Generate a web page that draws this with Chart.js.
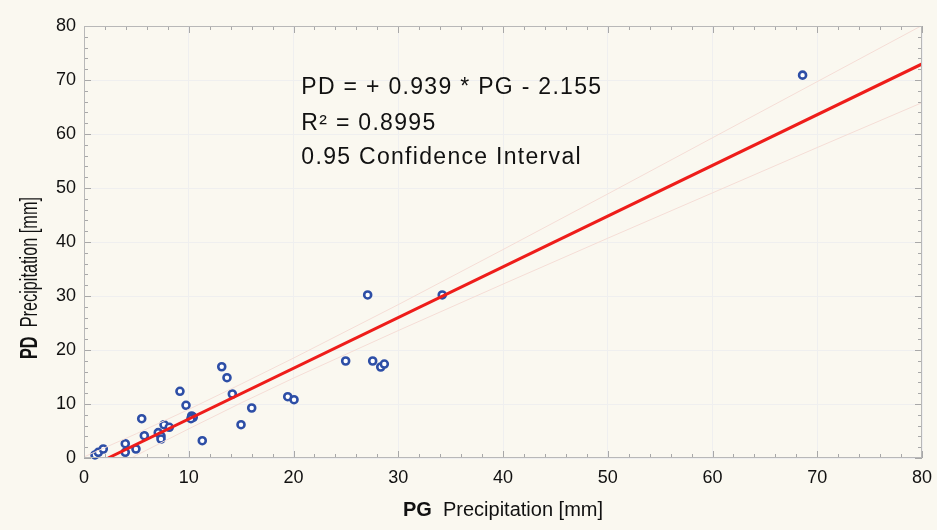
<!DOCTYPE html>
<html lang="en">
<head>
<meta charset="utf-8">
<title>PD vs PG precipitation</title>
<script src="https://cdn.jsdelivr.net/npm/chart.js@4/dist/chart.umd.min.js"></script>
<style>
  html, body { margin: 0; padding: 0; background: #faf8f0; }
</style>
</head>
<body>
<canvas id="chart" width="937" height="530"></canvas>
<script>
// measured pairs, PG on x and PD on y (mm)
const pg = [1.05, 1.37, 1.84, 3.94, 3.94, 4.96, 5.51, 5.76, 7.09, 7.35, 7.35, 7.64, 8.14,
            9.16, 9.74, 10.28, 10.43, 10.21, 11.29, 13.15, 13.65, 14.16, 14.99, 16.01,
            19.45, 20.05, 24.98, 27.08, 27.56, 28.33, 28.67, 34.2, 68.6];
const pd = [0.56, 1.06, 1.67, 2.65, 1.06, 1.67, 7.28, 4.13, 4.69, 4.07, 3.52, 6.17, 5.69,
            12.35, 9.76, 7.78, 7.54, 7.28, 3.2, 16.9, 14.87, 11.85, 6.17, 9.26,
            11.35, 10.8, 17.96, 30.19, 17.96, 16.85, 17.4, 30.19, 70.9];

// regression line end points
const fitPG = [2.3, 80];
const fitPD = [0, 72.97];

// 0.95 confidence band, read at a few PG values
const ciPG    = [0, 5, 10, 15, 20, 30, 40, 50, 60, 70, 80];
const ciUpper = [0.2, 4.5, 9.0, 13.7, 18.5, 28.4, 38.6, 48.9, 59.3, 69.7, 80.1];
const ciLower = [-4.5, 0.5, 5.4, 10.2, 14.8, 23.6, 32.2, 40.7, 49.1, 57.5, 65.8];

const noteLines = ['PD = + 0.939 * PG - 2.155', 'R\u00B2 = 0.8995', '0.95 Confidence Interval'];
const notePD = [68.5, 62.0, 55.7];
const notePG = 20.75;

const FONT = '"Liberation Sans", Arial, sans-serif';

function pairs(xs, ys) {
  return xs.map((x, i) => ({x: x, y: ys[i]}));
}

// draws "bold part" + "normal part" centred on (0,0) of the current transform
function drawTitle(ctx, bold, rest, size, len) {
  ctx.font = 'bold ' + size + 'px ' + FONT;
  let w1 = ctx.measureText(bold).width;
  ctx.font = size + 'px ' + FONT;
  let w2 = ctx.measureText(rest).width;
  let total = w1 + w2;
  if (len) ctx.scale(len / total, 1);
  ctx.textBaseline = 'middle';
  ctx.textAlign = 'left';
  ctx.fillStyle = '#111';
  ctx.font = 'bold ' + size + 'px ' + FONT;
  ctx.fillText(bold, -total / 2, 0);
  ctx.font = size + 'px ' + FONT;
  ctx.fillText(rest, -total / 2 + w1, 0);
}

const extras = {
  id: 'extras',
  beforeDatasetsDraw(chart) {
    const ctx = chart.ctx, a = chart.chartArea;
    const xs = chart.scales.x, ys = chart.scales.y;
    ctx.save();
    ctx.strokeStyle = '#a8a8a8';
    ctx.lineWidth = 1;
    ctx.beginPath();
    for (let v = 0; v <= 80; v += 2) {
      let len = (v % 10 === 0) ? 7 : 4;
      let px = Math.round(xs.getPixelForValue(v)) + 0.5;
      ctx.moveTo(px, a.bottom); ctx.lineTo(px, a.bottom - len);
      ctx.moveTo(px, a.top); ctx.lineTo(px, a.top + len);
      let py = Math.round(ys.getPixelForValue(v)) + 0.5;
      ctx.moveTo(a.left, py); ctx.lineTo(a.left + len, py);
      ctx.moveTo(a.right, py); ctx.lineTo(a.right - len, py);
    }
    ctx.stroke();
    ctx.restore();
  },
  afterDraw(chart) {
    const ctx = chart.ctx, a = chart.chartArea;
    const xs = chart.scales.x, ys = chart.scales.y;
    ctx.save();
    // frame
    ctx.strokeStyle = '#b8b8b8';
    ctx.lineWidth = 1;
    ctx.strokeRect(a.left + 0.5, a.top + 0.5, a.right - a.left - 1, a.bottom - a.top - 1);

    // equation block
    ctx.fillStyle = '#111';
    ctx.font = '23px ' + FONT;
    ctx.textAlign = 'left';
    ctx.textBaseline = 'middle';
    ctx.letterSpacing = '1.3px';
    noteLines.forEach((t, i) => {
      ctx.fillText(t, xs.getPixelForValue(notePG), ys.getPixelForValue(notePD[i]));
    });
    ctx.letterSpacing = '0px';
    ctx.restore();

    // axis titles
    ctx.save();
    ctx.translate((a.left + a.right) / 2, 510);
    drawTitle(ctx, 'PG', '  Precipitation [mm]', 20, 0);
    ctx.restore();

    ctx.save();
    ctx.translate(31, 278);
    ctx.rotate(-Math.PI / 2);
    drawTitle(ctx, 'PD', '  Precipitation [mm]', 23, 162);
    ctx.restore();
  }
};

const lineSet = (data, color, width) => ({
  data: data,
  showLine: true,
  borderColor: color,
  borderWidth: width,
  pointRadius: 0,
  pointHoverRadius: 0,
  fill: false
});

new Chart('chart', {
  type: 'scatter',
  data: {
    datasets: [
      lineSet(pairs(ciPG, ciUpper), '#f5ddd6', 1),
      lineSet(pairs(ciPG, ciLower), '#f5ddd6', 1),
      lineSet(pairs(fitPG, fitPD), '#ee1d1a', 3),
      {
        // observations
        data: pairs(pg, pd),
        pointStyle: 'circle',
        pointRadius: 3.5,
        pointHoverRadius: 3.5,
        pointBorderWidth: 2.6,
        borderColor: '#2d4ea6',
        backgroundColor: '#ffffff',
        clip: false
      }
    ]
  },
  options: {
    responsive: false,
    animation: false,
    events: [],
    layout: {padding: {top: 26, right: 15, left: 0, bottom: 0}},
    plugins: {legend: {display: false}, tooltip: {enabled: false}},
    scales: {
      x: {
        min: 0, max: 80,
        afterFit: s => { s.height = 72; s.paddingLeft = 0; s.paddingRight = 0; },
        ticks: {stepSize: 10, color: '#111', padding: 9, font: {family: FONT, size: 18}},
        grid: {color: '#efefef', drawTicks: false},
        border: {display: false}
      },
      y: {
        min: 0, max: 80,
        afterFit: s => { s.width = 84; s.paddingTop = 0; s.paddingBottom = 0; },
        ticks: {stepSize: 10, color: '#111', padding: 8, font: {family: FONT, size: 18}},
        grid: {color: '#efefef', drawTicks: false},
        border: {display: false}
      }
    }
  },
  plugins: [extras]
});
</script>
</body>
</html>
